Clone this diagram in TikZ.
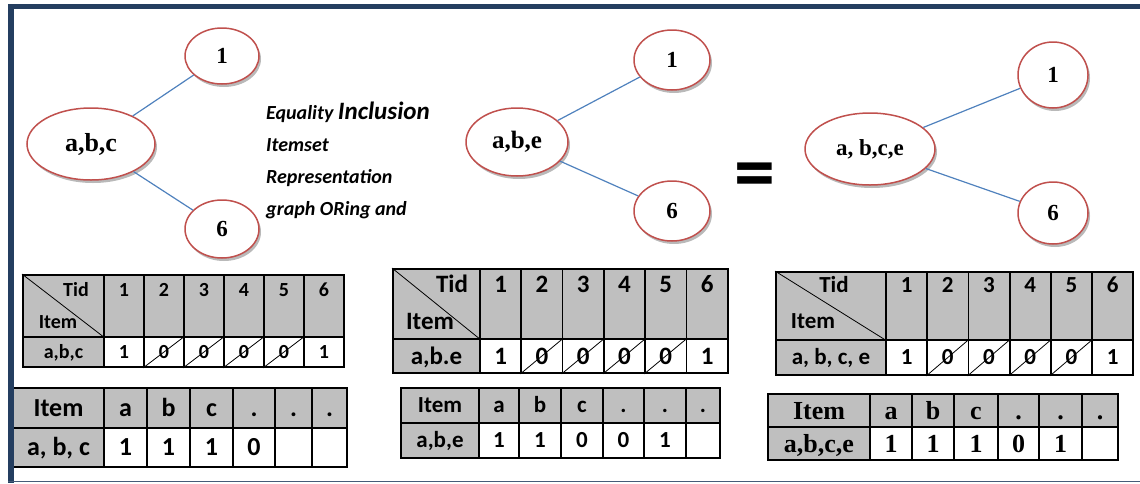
\documentclass[tikz,border=0pt]{standalone}
\usepackage{fontspec}
\setmainfont{Liberation Serif}
\newfontfamily\calib{Carlito}
\usetikzlibrary{shapes.geometric,shadows}
\definecolor{ringred}  {RGB}{192,80,77}
\definecolor{linkblue} {RGB}{79,129,189}
\definecolor{framenavy}{RGB}{36,62,96}
\definecolor{cellgray} {RGB}{191,191,191}

\begin{document}
\begin{tikzpicture}[
  x=1pt, y=-1pt,
  ring/.style ={ellipse, draw=ringred, line width=1.5pt, fill=white, inner sep=0pt,
                drop shadow={shadow xshift=2pt, shadow yshift=-3pt, opacity=0.5, fill=black!55}},
  link/.style ={draw=linkblue, line width=1.2pt},
  gcell/.style={rectangle, draw=black, line width=1.8pt, fill=cellgray, inner sep=0pt},
  wcell/.style={gcell, fill=white},
  slash/.style={draw=black, line width=0.8pt},
  note/.style ={font=\calib\bfseries\itshape\fontsize{20}{32}\selectfont},
]
\useasboundingbox (0,0) rectangle (1140,483);

%-- graph for a,b,c
\node[ring, minimum width=128, minimum height=72, font=\bfseries\fontsize{26}{28}\selectfont]
  (abc) at (91,144) {a,b,c};
\node[ring, minimum width=74, minimum height=56, font=\bfseries\fontsize{23}{24}\selectfont]
  (abc1) at (222,56) {1};
\node[ring, minimum width=74, minimum height=58, font=\bfseries\fontsize{23}{24}\selectfont]
  (abc6) at (222,229) {6};
\draw[link] (abc) -- (abc1);
\draw[link] (abc) -- (abc6);

\node[note, anchor=north west, align=left, inner sep=0pt] (caption) at (266,102)
  {Equality {\fontsize{25}{32}\selectfont Inclusion}\\Itemset\\Representation\\graph ORing and};

%-- graph for a,b,e
\node[ring, minimum width=102, minimum height=68, font=\bfseries\fontsize{25}{28}\selectfont]
  (abe) at (517,142) {a,b,e};
\node[ring, minimum width=76, minimum height=60, font=\bfseries\fontsize{23}{24}\selectfont]
  (abe1) at (672,60) {1};
\node[ring, minimum width=76, minimum height=60, font=\bfseries\fontsize{23}{24}\selectfont]
  (abe6) at (672,211) {6};
\draw[link] (abe) -- (abe1);
\draw[link] (abe) -- (abe6);

\node[font=\calib\bfseries\fontsize{82}{82}\selectfont] (eq) at (755,181) {=};

%-- graph for the OR result
\node[ring, minimum width=130, minimum height=72, font=\bfseries\fontsize{23}{24}\selectfont]
  (abce) at (870,149) {a, b,c,e};
\node[ring, minimum width=70, minimum height=66, font=\bfseries\fontsize{23}{24}\selectfont]
  (abce1) at (1053,75) {1};
\node[ring, minimum width=70, minimum height=62, font=\bfseries\fontsize{23}{24}\selectfont]
  (abce6) at (1053,213) {6};
\draw[link] (abce) -- (abce1);
\draw[link] (abce) -- (abce6);

%-- Tid table, a,b,c
\begin{scope}[font=\calib\bfseries\fontsize{20}{22}\selectfont,
              every node/.append style={text height=12.9pt, text depth=0pt}]
\node[gcell, minimum width=81, minimum height=62] (ta-hd) at (63.5,306) {};
\draw[slash] (ta-hd.north west) -- (ta-hd.south east);
\node (ta-tid)  at (76,290) {Tid};
\node (ta-item) at (58,322) {Item};
\node[gcell, minimum width=81, minimum height=30] (ta-row) at (63.5,352) {a,b,c};
\foreach \v [count=\i] in {1,0,0,0,0,1} {
  \node[gcell, minimum width=40, minimum height=62] (ta-h\i) at (84+40*\i,306) {};
  \node (ta-n\i) at (84+40*\i,290) {\i};
  \node[wcell, minimum width=40, minimum height=30] (ta-v\i) at (84+40*\i,352) {\v};
}
\foreach \i in {2,...,5} \draw[slash] (ta-v\i.south west) -- (ta-v\i.north east);
\end{scope}

%-- item table, a,b,c
\begin{scope}[font=\calib\bfseries\fontsize{26}{30}\selectfont,
              every node/.append style={text height=16.7pt, text depth=0pt}]
\node[gcell, minimum width=91, minimum height=40] (tb-hd)  at (58.5,408) {Item};
\node[gcell, minimum width=91, minimum height=39] (tb-row) at (58.5,447.5) {a, b, c};
\foreach \h/\v/\l/\r [count=\i] in {a/1/104/147, b/1/147/190, c/1/190/233,
                                   ./0/233/275, ./{}/275/312, ./{}/312/347} {
  \node[gcell, minimum width=\r-\l, minimum height=40] (tb-h\i) at ({(\l+\r)/2},408) {\h};
  \node[wcell, minimum width=\r-\l, minimum height=39] (tb-v\i) at ({(\l+\r)/2},447.5) {\v};
}
\end{scope}

%-- Tid table, a,b,e
\begin{scope}[font=\calib\bfseries\fontsize{25}{28}\selectfont,
              every node/.append style={text height=16pt, text depth=0pt}]
\node[gcell, minimum width=87, minimum height=70] (tc-hd) at (436.5,304) {};
\draw[slash] (tc-hd.north west) -- (tc-hd.south east);
\node (tc-tid)  at (452,284) {Tid};
\node (tc-item) at (430,321) {Item};
\node[gcell, minimum width=87, minimum height=34] (tc-row) at (436.5,356) {a,b.e};
\foreach \v [count=\i] in {1,0,0,0,0,1} {
  \node[gcell, minimum width=41.3, minimum height=70] (tc-h\i) at (459.3+41.3*\i,304) {};
  \node (tc-n\i) at (459.3+41.3*\i,284) {\i};
  \node[wcell, minimum width=41.3, minimum height=34] (tc-v\i) at (459.3+41.3*\i,356) {\v};
}
\foreach \i in {2,...,5} \draw[slash] (tc-v\i.south west) -- (tc-v\i.north east);
\end{scope}

%-- item table, a,b,e
\begin{scope}[font=\calib\bfseries\fontsize{23}{26}\selectfont,
              every node/.append style={text height=14.8pt, text depth=0pt}]
\node[gcell, minimum width=78, minimum height=35] (td-hd)  at (440,405.5) {Item};
\node[gcell, minimum width=78, minimum height=35] (td-row) at (440,440.5) {a,b,e};
\foreach \h/\v/\l/\r [count=\i] in {a/1/479/519, b/1/519/561, c/0/561/603,
                                   ./0/603/644, ./1/644/686, ./{}/686/720} {
  \node[gcell, minimum width=\r-\l, minimum height=35] (td-h\i) at ({(\l+\r)/2},405.5) {\h};
  \node[wcell, minimum width=\r-\l, minimum height=35] (td-v\i) at ({(\l+\r)/2},440.5) {\v};
}
\end{scope}

%-- Tid table, OR result
\begin{scope}[font=\calib\bfseries\fontsize{23}{26}\selectfont,
              every node/.append style={text height=14.8pt, text depth=0pt}]
\node[gcell, minimum width=110, minimum height=68] (te-hd) at (831,306) {};
\draw[slash] (te-hd.north west) -- (te-hd.south east);
\node (te-tid)  at (834,285) {Tid};
\node (te-item) at (813,321) {Item};
\node[gcell, minimum width=110, minimum height=35] (te-row) at (831,357.5) {a, b, c, e};
\foreach \v [count=\i] in {1,0,0,0,0,1} {
  \node[gcell, minimum width=41.2, minimum height=68] (te-h\i) at (865.4+41.2*\i,306) {};
  \node (te-n\i) at (865.4+41.2*\i,285) {\i};
  \node[wcell, minimum width=41.2, minimum height=35] (te-v\i) at (865.4+41.2*\i,357.5) {\v};
}
\foreach \i in {2,...,5} \draw[slash] (te-v\i.south west) -- (te-v\i.north east);
\end{scope}

%-- item table, OR result
\begin{scope}[font=\bfseries\fontsize{26}{30}\selectfont,
              every node/.append style={text height=17.2pt, text depth=0pt}]
\node[gcell, minimum width=102, minimum height=33] (tf-hd)  at (819,410.5) {Item};
\node[gcell, minimum width=102, minimum height=33] (tf-row) at (819,443.5) {a,b,c,e};
\foreach \h/\v/\l/\r [count=\i] in {a/1/870/912, b/1/912/954, c/1/954/998,
                                   ./0/998/1039, ./1/1039/1082, ./{}/1082/1118} {
  \node[gcell, minimum width=\r-\l, minimum height=33] (tf-h\i) at ({(\l+\r)/2},410.5) {\h};
  \node[wcell, minimum width=\r-\l, minimum height=33] (tf-v\i) at ({(\l+\r)/2},443.5) {\v};
}
\end{scope}

%-- page frame
\fill[framenavy] (8,4) rectangle (1140,9);
\fill[framenavy] (8,4) rectangle (14,483);
\draw[framenavy!85, line width=1.5pt] (8,481.5) -- (1140,481.5);
\end{tikzpicture}
\end{document}
